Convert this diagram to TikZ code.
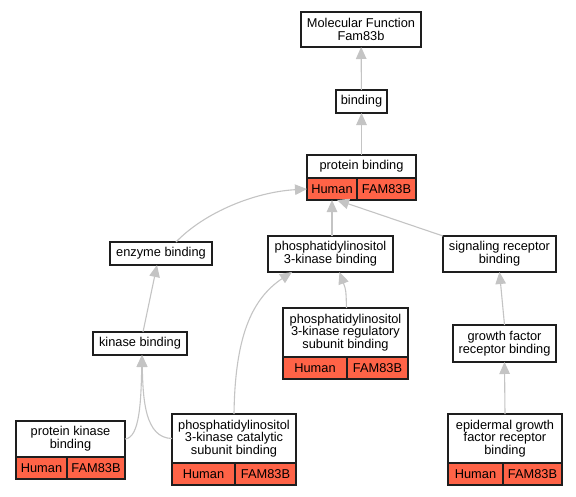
\documentclass[tikz,border=0pt]{standalone}
\usepackage{fontspec}
\setmainfont{Liberation Sans}
\usepackage{tikz}
\usepackage{xcolor}
\usetikzlibrary{positioning,calc}
\usetikzlibrary{arrows.meta}
\definecolor{Tomato}{RGB}{255, 99, 71}
\definecolor{EdgeGray}{RGB}{196, 196, 196}
\definecolor{BoxLine}{RGB}{30, 30, 30}

\tikzset{
    term/.style={draw=BoxLine, line width=1.1pt, fill=white, align=center,
        inner sep=0pt, outer sep=0pt,
        font=\fontsize{12.8pt}{12.8pt}\selectfont},
    cell/.style={term, fill=Tomato, anchor=north west, minimum height=22},
    edge/.style={draw=EdgeGray, line width=1.1pt, -{Triangle[length=12pt,width=10.5pt]}}
}

\begin{document}
\begin{tikzpicture}[x=1pt,y=-1pt]
    \useasboundingbox[fill=white] (0,0) rectangle (576,496);

    % top of the tree
    \node[term, minimum width=120, minimum height=35] (mf) at (361,29.5) {Molecular Function\\Fam83b};
    \node[term, minimum width=51, minimum height=23] (bind) at (361.5,101.5) {binding};
    \node[term, minimum width=109, minimum height=23] (pb) at (361.5,166.5) {protein binding};
    \node[cell, minimum width=50] (pbh) at (pb.south west) {Human};
    \node[cell, minimum width=59] (pbf) at (pbh.north east) {FAM83B};

    % middle row
    \node[term, minimum width=102, minimum height=23] (enz) at (161,253.5) {enzyme binding};
    \node[term, minimum width=125, minimum height=36] (pik) at (330.5,254) {phosphatidylinositol\\3-kinase binding};
    \node[term, minimum width=113, minimum height=36] (sig) at (499.5,254) {signaling receptor\\binding};

    \node[term, minimum width=94, minimum height=23] (kin) at (140,343.5) {kinase binding};
    \node[term, minimum width=125, minimum height=49] (reg) at (345.5,332.5) {phosphatidylinositol\\3-kinase regulatory\\subunit binding};
    \node[cell, minimum width=64] (regh) at (reg.south west) {Human};
    \node[cell, minimum width=61] (regf) at (regh.north east) {FAM83B};
    \node[term, minimum width=103, minimum height=37] (gf) at (504.5,343.5) {growth factor\\receptor binding};

    % bottom row
    \node[term, minimum width=109, minimum height=36] (pkb) at (70.5,439) {protein kinase\\binding};
    \node[cell, minimum width=51] (pkbh) at (pkb.south west) {Human};
    \node[cell, minimum width=58] (pkbf) at (pkbh.north east) {FAM83B};
    \node[term, minimum width=124, minimum height=49] (cat) at (234,438.5) {phosphatidylinositol\\3-kinase catalytic\\subunit binding};
    \node[cell, minimum width=63] (cath) at (cat.south west) {Human};
    \node[cell, minimum width=61] (catf) at (cath.north east) {FAM83B};
    \node[term, minimum width=114, minimum height=49] (egf) at (505,438.5) {epidermal growth\\factor receptor\\binding};
    \node[cell, minimum width=55] (egfh) at (egf.south west) {Human};
    \node[cell, minimum width=59] (egff) at (egfh.north east) {FAM83B};

    % is_a links
    \draw[edge] (bind) -- (mf);
    \draw[edge] (pb) -- (bind);
    \draw[edge] ([xshift=15]enz.north) .. controls (205,212) and (255,192) .. (pbh.west);
    \draw[edge] ([xshift=1.5]pik.north) -- ([xshift=1.5]pik.north |- pbh.south);
    \draw[edge] (sig.north west) -- ([xshift=5]pbh.south);
    \draw[edge] ([xshift=3]kin.north) -- ([xshift=-4]enz.south);
    \draw[edge] (pkb.east) .. controls (140,438) and (141,400) .. ([xshift=2]kin.south);
    \draw[edge] (cat.west) .. controls (145,438) and (143,400) .. ([xshift=2]kin.south);
    \draw[edge] (cat.north) .. controls (235,340) and (250,300) .. ([xshift=-38.5]pik.south);
    \draw[edge] ([xshift=1]reg.north) .. controls (346,290) .. ([xshift=9]pik.south);
    \draw[edge] (gf.north) -- (sig.south);
    \draw[edge] (egf.north) -- (gf.south);
\end{tikzpicture}
\end{document}
